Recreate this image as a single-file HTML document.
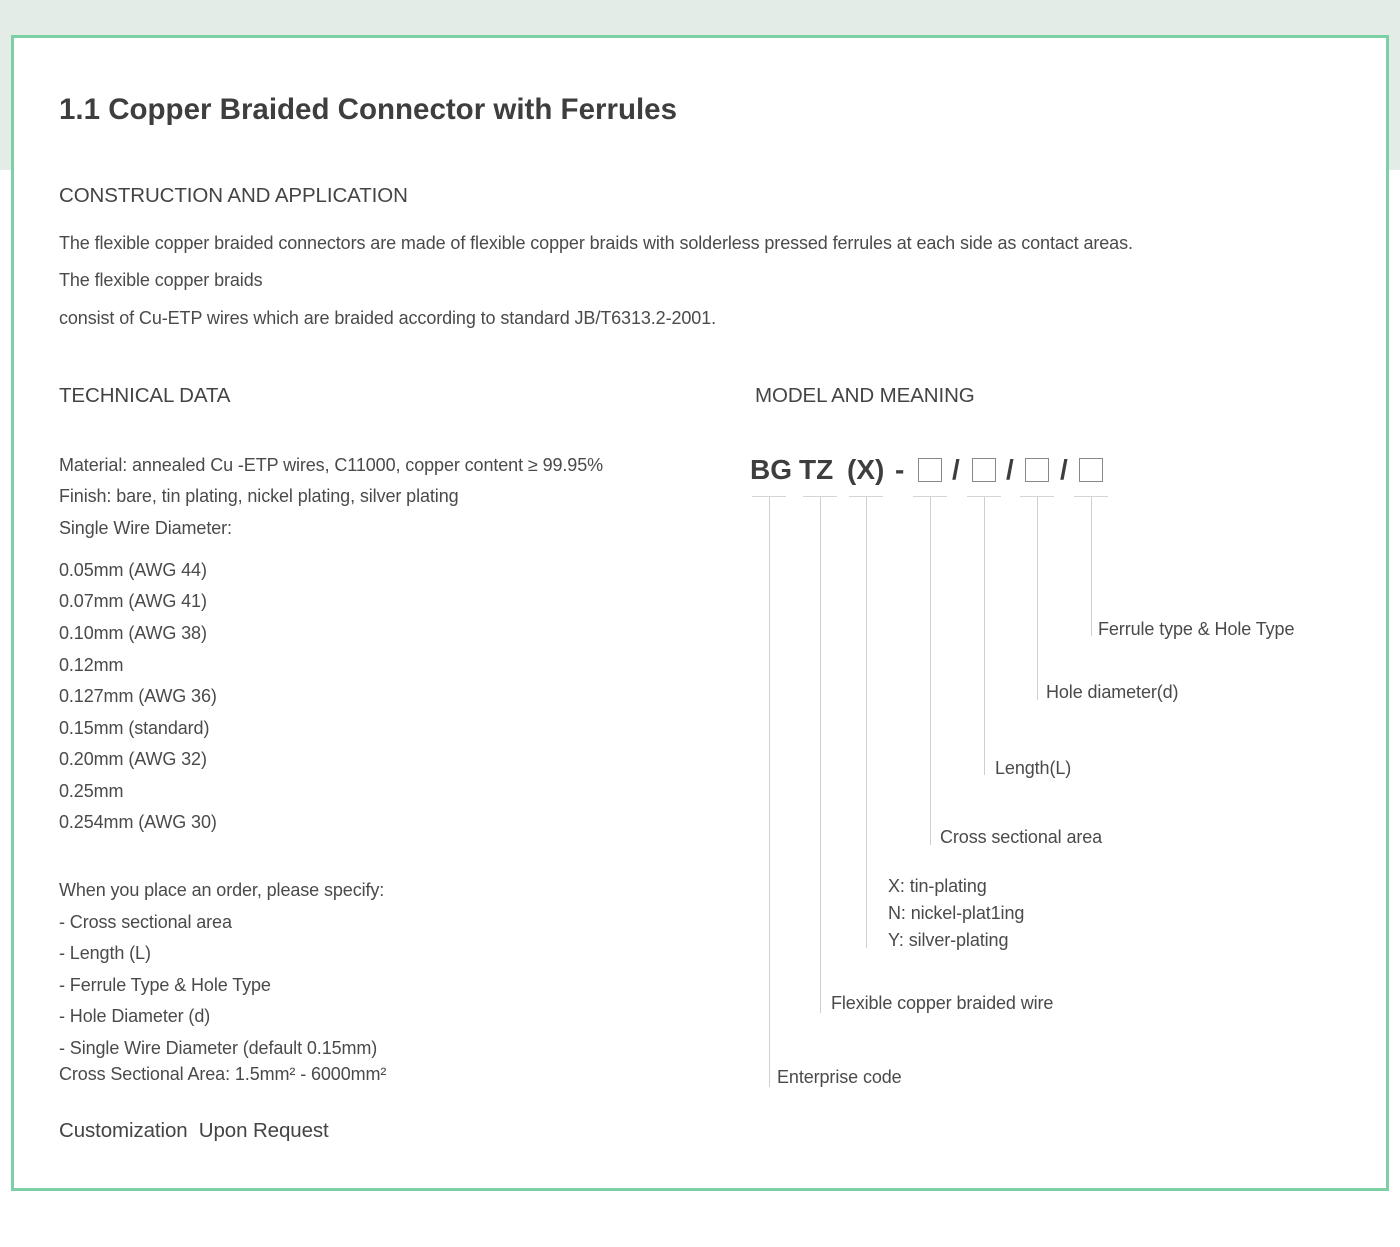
<!DOCTYPE html>
<html><head><meta charset="utf-8"><style>
body{margin:0;width:1400px;height:1247px;position:relative;background:#fff;font-family:"Liberation Sans",sans-serif;color:#4a4a4a;overflow:hidden}
.top{position:absolute;left:0;top:0;width:1400px;height:170px;background:#e4ece7}
.box{position:absolute;left:11px;top:35px;width:1372px;height:1150px;border:3px solid #7dcfa6;background:#fff}
.t{position:absolute;white-space:nowrap;font-size:18px;line-height:20px;letter-spacing:-0.1px}
h1{position:absolute;left:59px;top:93px;margin:0;font-size:29.5px;font-weight:bold;color:#3e3e3e;white-space:nowrap}
.h{font-size:20.5px;color:#444}
.v{position:absolute;width:1px;background:#cfcfcf}
.hz{position:absolute;height:1px;background:#d5d5d5;top:496px}
.sq{position:absolute;top:458px;width:24px;height:24px;border:1.5px solid #888;box-sizing:border-box}
.c{position:absolute;top:454px;font-size:28px;font-weight:bold;color:#3e3e3e;white-space:nowrap;line-height:32px}
</style></head><body>
<div class="top"></div>
<div class="box"></div>
<h1>1.1 Copper Braided Connector with Ferrules</h1>
<div class="t h" style="left:59px;top:186px">CONSTRUCTION AND APPLICATION</div>
<div class="t" style="left:59px;top:233px">The flexible copper braided connectors are made of flexible copper braids with solderless pressed ferrules at each side as contact areas.</div>
<div class="t" style="left:59px;top:270px">The flexible copper braids</div>
<div class="t" style="left:59px;top:308px">consist of Cu-ETP wires which are braided according to standard JB/T6313.2-2001.</div>
<div class="t h" style="left:59px;top:386px">TECHNICAL DATA</div>
<div class="t h" style="left:755px;top:386px">MODEL AND MEANING</div>
<div class="t" style="left:59px;top:455px">Material: annealed Cu -ETP wires, C11000, copper content ≥ 99.95%</div>
<div class="t" style="left:59px;top:486px">Finish: bare, tin plating, nickel plating, silver plating</div>
<div class="t" style="left:59px;top:518px">Single Wire Diameter:</div>
<div class="t" style="left:59px;top:560px">0.05mm (AWG 44)</div>
<div class="t" style="left:59px;top:591px">0.07mm (AWG 41)</div>
<div class="t" style="left:59px;top:623px">0.10mm (AWG 38)</div>
<div class="t" style="left:59px;top:655px">0.12mm</div>
<div class="t" style="left:59px;top:686px">0.127mm (AWG 36)</div>
<div class="t" style="left:59px;top:718px">0.15mm (standard)</div>
<div class="t" style="left:59px;top:749px">0.20mm (AWG 32)</div>
<div class="t" style="left:59px;top:781px">0.25mm</div>
<div class="t" style="left:59px;top:812px">0.254mm (AWG 30)</div>
<div class="t" style="left:59px;top:880px">When you place an order, please specify:</div>
<div class="t" style="left:59px;top:912px">- Cross sectional area</div>
<div class="t" style="left:59px;top:943px">- Length (L)</div>
<div class="t" style="left:59px;top:975px">- Ferrule Type &amp; Hole Type</div>
<div class="t" style="left:59px;top:1006px">- Hole Diameter (d)</div>
<div class="t" style="left:59px;top:1038px">- Single Wire Diameter (default 0.15mm)</div>
<div class="t" style="left:59px;top:1064px">Cross Sectional Area: 1.5mm² - 6000mm²</div>
<div class="t h" style="left:59px;top:1121px">Customization&nbsp; Upon Request</div>

<div class="c" style="left:750px">BG</div>
<div class="c" style="left:799px">TZ</div>
<div class="c" style="left:847px">(X)</div>
<div class="c" style="left:895px">-</div>
<div class="sq" style="left:918px"></div>
<div class="c" style="left:952px">/</div>
<div class="sq" style="left:972px"></div>
<div class="c" style="left:1006px">/</div>
<div class="sq" style="left:1025px"></div>
<div class="c" style="left:1060px">/</div>
<div class="sq" style="left:1079px"></div>

<div class="hz" style="left:752px;width:34px"></div>
<div class="hz" style="left:803px;width:34px"></div>
<div class="hz" style="left:849px;width:34px"></div>
<div class="hz" style="left:913px;width:34px"></div>
<div class="hz" style="left:967px;width:34px"></div>
<div class="hz" style="left:1020px;width:34px"></div>
<div class="hz" style="left:1074px;width:34px"></div>
<div class="v" style="left:769px;top:497px;height:590px"></div>
<div class="v" style="left:820px;top:497px;height:516px"></div>
<div class="v" style="left:866px;top:497px;height:451px"></div>
<div class="v" style="left:930px;top:497px;height:348px"></div>
<div class="v" style="left:984px;top:497px;height:278px"></div>
<div class="v" style="left:1037px;top:497px;height:203px"></div>
<div class="v" style="left:1091px;top:497px;height:139px"></div>
<div class="t" style="left:1098px;top:619px">Ferrule type &amp; Hole Type</div>
<div class="t" style="left:1046px;top:682px">Hole diameter(d)</div>
<div class="t" style="left:995px;top:758px">Length(L)</div>
<div class="t" style="left:940px;top:827px">Cross sectional area</div>
<div class="t" style="left:888px;top:876px">X: tin-plating</div>
<div class="t" style="left:888px;top:903px">N: nickel-plat1ing</div>
<div class="t" style="left:888px;top:930px">Y: silver-plating</div>
<div class="t" style="left:831px;top:993px">Flexible copper braided wire</div>
<div class="t" style="left:777px;top:1067px">Enterprise code</div>
</body></html>
